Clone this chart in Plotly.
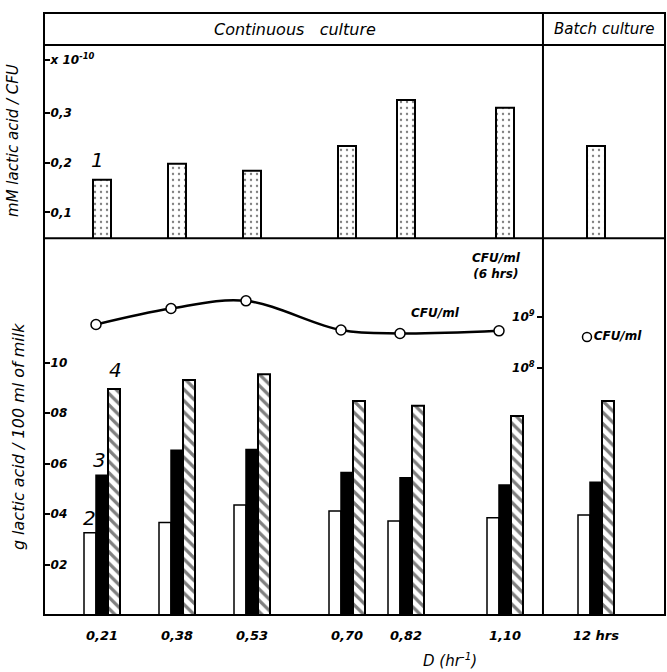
import plotly.graph_objects as go

# ---------------- data ----------------
categories = ["0,21", "0,38", "0,53", "0,70", "0,82", "1,10", "12 hrs"]
# 1: mM lactic acid per CFU (x 10^-10)
lactic_per_cfu = [0.166, 0.198, 0.184, 0.234, 0.327, 0.311, 0.234]
# 2, 3, 4: g lactic acid / 100 ml of milk
series2 = [0.326, 0.366, 0.436, 0.412, 0.372, 0.385, 0.396]
series3 = [0.554, 0.653, 0.656, 0.565, 0.544, 0.515, 0.526]
series4 = [0.895, 0.931, 0.954, 0.848, 0.829, 0.788, 0.848]
# CFU/ml (6 hrs) continuous culture, and batch culture
cfu_continuous = [7.2e8, 1.48e9, 2.09e9, 5.6e8, 4.8e8, 5.4e8]
cfu_batch = [4.1e8]
cfu_ticks = [1e8, 1e9]
cfu_ticktext = ["10<sup>8</sup>", "10<sup>9</sup>"]
lactic_ticks = [0.2, 0.4, 0.6, 0.8, 1.0]
lactic_ticktext = ["02", "04", "06", "08", "10"]
top_ticks = [0.1, 0.2, 0.3, 0.408]
top_ticktext = ["0,1", "0,2", "0,3", "x 10<sup>-10</sup>"]

# ---------------- layout constants ----------------
POS = [58, 133, 208, 303, 362, 461, 552]   # slot positions on the x axis (units)
XR = [0, 621]
BW = 12
FONT = "DejaVu Sans"
BLACK = "black"

fig = go.Figure()

# top panel: dotted bars
fig.add_trace(go.Bar(
    x=POS, y=lactic_per_cfu, xaxis="x2", yaxis="y2", width=18,
    marker=dict(color="white", line=dict(color=BLACK, width=2),
                pattern=dict(shape=".", size=6, solidity=0.12, fgcolor=BLACK, bgcolor="white")),
    showlegend=False, hoverinfo="skip"))

# bottom panel: three bars per group
fig.add_trace(go.Bar(
    x=POS, y=series2, width=BW, offset=-18,
    marker=dict(color="white", line=dict(color=BLACK, width=1.5)),
    showlegend=False))
fig.add_trace(go.Bar(
    x=POS, y=series3, width=BW, offset=-6,
    marker=dict(color=BLACK, line=dict(color=BLACK, width=1.5)),
    showlegend=False))
fig.add_trace(go.Bar(
    x=POS, y=series4, width=BW, offset=6,
    marker=dict(color="white", line=dict(color=BLACK, width=2),
                pattern=dict(shape="\\", size=8, solidity=0.4, fgcolor=BLACK, bgcolor="white")),
    showlegend=False))

# CFU curve (log axis)
fig.add_trace(go.Scatter(
    x=[p - 6 for p in POS[:6]], y=cfu_continuous, yaxis="y3",
    mode="lines+markers", line=dict(color=BLACK, width=2.5, shape="spline", smoothing=1.0),
    marker=dict(symbol="circle", size=10, color="white", line=dict(color=BLACK, width=1.5)),
    showlegend=False))
fig.add_trace(go.Scatter(
    x=[POS[6] - 9], y=cfu_batch, yaxis="y3",
    mode="markers+text", text=["<i><b>CFU/ml</b></i>"], textposition="middle right",
    textfont=dict(family=FONT, size=12, color=BLACK),
    marker=dict(symbol="circle", size=9, color="white", line=dict(color=BLACK, width=1.5)),
    showlegend=False))

Y_SPLIT = 0.626
Y_HEAD = 0.947
X_DIV = 0.8035
TF = dict(size=12, family=FONT, color=BLACK)

fig.update_layout(
    width=667, height=672,
    margin=dict(l=44, r=2, t=13, b=57),
    paper_bgcolor="white", plot_bgcolor="white",
    barmode="overlay",
    font=dict(family=FONT, color=BLACK, size=12),
    xaxis=dict(domain=[0, 1], range=XR, anchor="y", tickvals=POS,
               ticktext=[f"<i><b>{c}</b></i>" for c in categories],
               ticks="outside", ticklen=8, tickcolor="rgba(0,0,0,0)",
               showgrid=False, zeroline=False, showline=False,
               tickfont=dict(size=13, family=FONT, color=BLACK)),
    xaxis2=dict(domain=[0, 1], range=XR, anchor="y2", matches="x",
                showticklabels=False, showgrid=False, zeroline=False, showline=False, ticks=""),
    yaxis=dict(domain=[0, Y_SPLIT], range=[0, 1.493], tickvals=lactic_ticks,
               ticktext=[f"<i><b>{t}</b></i>" for t in lactic_ticktext],
               ticks="inside", ticklen=6, tickwidth=2, tickcolor=BLACK,
               ticklabelposition="inside", showgrid=False, zeroline=False, showline=False,
               tickfont=TF),
    yaxis2=dict(domain=[Y_SPLIT, Y_HEAD], range=[0.048, 0.438], anchor="x2",
                tickvals=top_ticks, ticktext=[f"<i><b>{t}</b></i>" for t in top_ticktext],
                ticks="inside", ticklen=6, tickwidth=2, tickcolor=BLACK,
                ticklabelposition="inside", showgrid=False, zeroline=False, showline=False,
                tickfont=TF),
    yaxis3=dict(overlaying="y", anchor="free", position=X_DIV, side="left", type="log",
                range=[3.16, 10.55], tickvals=cfu_ticks,
                ticktext=[f"<i><b>{t}</b></i>" for t in cfu_ticktext],
                ticks="outside", ticklen=6, tickwidth=2, tickcolor=BLACK,
                showgrid=False, zeroline=False, showline=False,
                tickfont=TF),
)

line = dict(color=BLACK, width=2)
shapes = [
    dict(type="rect", xref="paper", yref="paper", x0=0, x1=1, y0=0, y1=1, line=line),
    dict(type="line", xref="paper", yref="paper", x0=0, x1=1, y0=Y_HEAD, y1=Y_HEAD, line=line),
    dict(type="line", xref="paper", yref="paper", x0=0, x1=1, y0=Y_SPLIT, y1=Y_SPLIT, line=line),
    dict(type="line", xref="paper", yref="paper", x0=X_DIV, x1=X_DIV, y0=0, y1=1, line=line),
]
fig.update_layout(shapes=shapes)

ann = []
def A(text, x, y, xref="paper", yref="paper", size=13, angle=0):
    ann.append(dict(text=text, x=x, y=y, xref=xref, yref=yref, showarrow=False,
                    xanchor="center", yanchor="middle", textangle=angle,
                    font=dict(family=FONT, size=size, color=BLACK)))

NB = "\u00a0"
A(f"<i>Continuous{NB*3}culture</i>", 0.404, 0.973, size=16)
A("<i>Batch culture</i>", 0.903, 0.973, size=15)
A("<i>mM lactic acid / CFU</i>", -0.05, 0.789, size=15, angle=-90)
A("<i>g lactic acid / 100 ml of milk</i>", -0.042, 0.297, size=16, angle=-90)
A("<i>D (hr<sup>-1</sup>)</i>", 0.654, -0.075, size=15)
A("<i><b>CFU/ml</b></i>", 0.63, 0.502, size=12)
A("<i><b>CFU/ml<br>(6 hrs)</b></i>", 0.729, 0.58, size=12)
# series labels
A("<i>1</i>", POS[0] - 5, lactic_per_cfu[0] + 0.04, xref="x2", yref="y2", size=20)
A("<i>2</i>", POS[0] - 13, series2[0] + 0.058, xref="x", yref="y", size=20)
A("<i>3</i>", POS[0] - 3, series3[0] + 0.06, xref="x", yref="y", size=20)
A("<i>4</i>", POS[0] + 13, series4[0] + 0.075, xref="x", yref="y", size=20)
fig.update_layout(annotations=ann)

fig.write_html("out.html")
